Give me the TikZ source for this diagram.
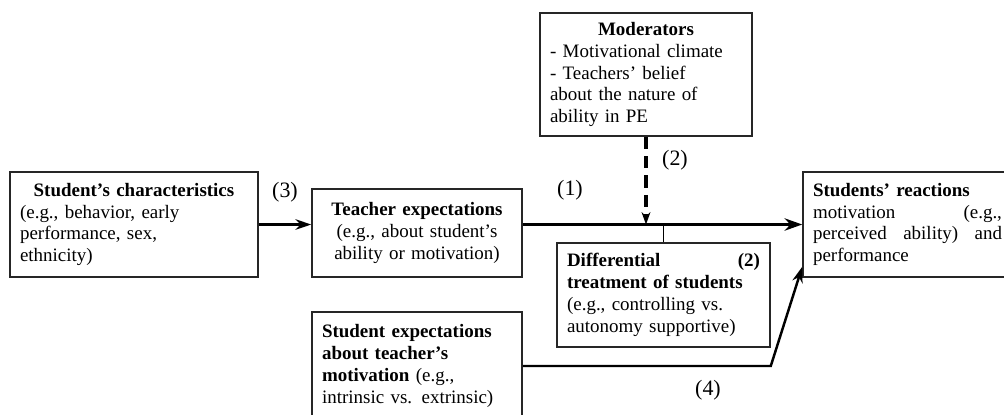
\documentclass[tikz,border=0pt]{standalone}
\usepackage{fontspec}
\setmainfont{Liberation Serif}
\usetikzlibrary{arrows.meta}

\begin{document}
\begin{tikzpicture}[x=0.02cm,y=-0.02cm]
        \tikzstyle{box}=[draw=black!85, line width=0.9pt, inner xsep=0.2cm, inner ysep=0.1cm, align=left, font=\fontsize{10.8}{12.4}\selectfont]
        \tikzstyle{lbl}=[font=\fontsize{12.5}{14}\selectfont, inner sep=0pt]
        \useasboundingbox (0,0) rectangle (1004,414);
        % boxes
        \node [box, minimum width=4.96cm, minimum height=2.1cm, text width=4.56cm] (chars) at (134,224.5)
            {\makebox[\linewidth]{\textbf{Student's characteristics}}\\(e.g., behavior, early\\performance, sex,\\ethnicity)};
        \node [box, minimum width=4.2cm, minimum height=1.76cm, text width=3.8cm, align=center] (teach) at (417,233)
            {\textbf{Teacher expectations}\\(e.g., about student's\\ability or motivation)};
        \node [box, minimum width=4.24cm, minimum height=2.46cm, text width=3.84cm] (mod) at (646,74.5)
            {\makebox[\linewidth]{\textbf{Moderators}}\\- Motivational climate\\- Teachers' belief\\about the nature of\\ability in PE};
        \node [box, minimum width=4.26cm, minimum height=2.08cm, text width=3.86cm] (diff) at (663.5,295)
            {\textbf{Differential}\hfill\textbf{(2)}\\\textbf{treatment of students}\\(e.g., controlling vs.\\autonomy supportive)};
        \node [box, minimum width=4.18cm, minimum height=2.1cm, text width=3.78cm] (react) at (907.5,224.5)
            {\textbf{Students' reactions}\\motivation\hfill(e.g.,\\perceived\hfill ability)\hfill and\\performance};
        \node [box, minimum width=4.2cm, minimum height=2.16cm, text width=3.8cm] (sexp) at (417,366)
            {\textbf{Student expectations}\\\textbf{about teacher's}\\\textbf{motivation} (e.g.,\\intrinsic vs. extrinsic)};
        % connectors
        \draw [line width=1.7pt, -{Stealth[length=9pt,width=6pt]}] (chars.east) -- (chars.east -| teach.west);
        \draw [line width=2.2pt, -{Stealth[length=10pt,width=7pt]}] (teach.east |- react.west) -- (react.west);
        \draw [line width=2pt, dash pattern=on 7pt off 4pt, -{Stealth[length=7pt,width=5pt]}] (mod.south) -- (mod.south |- react.west);
        \draw [line width=0.7pt] (diff.north) -- (diff.north |- react.west);
        \draw [line width=1.4pt, -{Stealth[length=9pt,width=6pt]}] (sexp.east) -- (sexp.east -| diff.east) -- ([yshift=0.22cm]react.south west);
        % labels
        \node [lbl] (l3) at (285,192) {(3)};
        \node [lbl] (l1) at (570,190) {(1)};
        \node [lbl] (l2) at (675,160) {(2)};
        \node [lbl] (l4) at (708,390) {(4)};
\end{tikzpicture}
\end{document}
